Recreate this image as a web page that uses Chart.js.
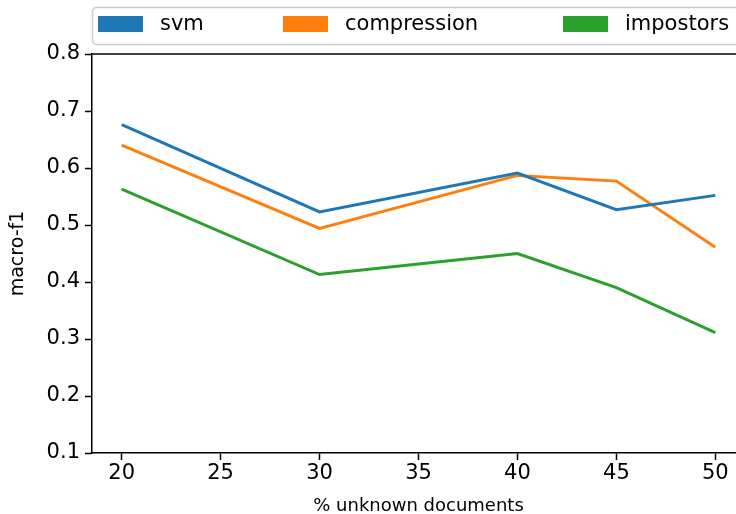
<!DOCTYPE html>
<html>
<head>
<meta charset="utf-8">
<script src="https://cdn.jsdelivr.net/npm/chart.js@4/dist/chart.umd.min.js"></script>
<style>
  html, body { margin: 0; padding: 0; background: #fff; overflow: hidden; }
  #wrap { width: 745px; height: 514px; }
</style>
</head>
<body>
<div id="wrap"><canvas id="myChart" width="745" height="514"></canvas></div>
<script>
// values
const unknownPercent = [20, 30, 40, 45, 50];
const svmScores = [0.676, 0.523, 0.591, 0.527, 0.552];
const compressionScores = [0.640, 0.494, 0.587, 0.577, 0.461];
const impostorsScores = [0.563, 0.413, 0.450, 0.390, 0.311];
const xTicks = [20, 25, 30, 35, 40, 45, 50];
const yTicks = [0.1, 0.2, 0.3, 0.4, 0.5, 0.6, 0.7, 0.8];

const context = document.getElementById('myChart').getContext('2d');

const toPoints = values => values.map((v, i) => ({ x: unknownPercent[i], y: v }));

// top spine + matplotlib-like legend box across the top
const frameLegend = {
  id: 'frameLegend',
  afterDraw(chart) {
    const ctx = chart.ctx;
    const { left, right, top } = chart.chartArea;
    const boxX = [98, 283, 563];
    ctx.save();
    ctx.strokeStyle = '#000';
    ctx.lineWidth = 1.5;
    ctx.beginPath();
    ctx.moveTo(left - 0.75, top);
    ctx.lineTo(right, top);
    ctx.stroke();

    ctx.fillStyle = 'rgba(255,255,255,0.8)';
    ctx.strokeStyle = '#cccccc';
    ctx.beginPath();
    ctx.roundRect(92.5, 7.5, 700, 37, 4);
    ctx.fill();
    ctx.stroke();
    ctx.font = '21px "DejaVu Sans"';
    ctx.textBaseline = 'middle';
    chart.data.datasets.forEach((ds, i) => {
      ctx.fillStyle = ds.borderColor;
      ctx.fillRect(boxX[i], 16, 45, 16);
      ctx.fillStyle = '#000';
      ctx.fillText(ds.label, boxX[i] + 62, 25);
    });
    ctx.restore();
  },
};

new Chart(context, {
  type: 'line',
  data: {
    datasets: [
      { label: 'svm', data: toPoints(svmScores), borderColor: '#1f77b4' },
      { label: 'compression', data: toPoints(compressionScores), borderColor: '#ff7f0e' },
      { label: 'impostors', data: toPoints(impostorsScores), borderColor: '#2ca02c' },
    ].map(ds => ({ ...ds, borderWidth: 3, pointRadius: 0, tension: 0, fill: false })),
  },
  options: {
    responsive: false,
    animation: false,
    layout: { padding: { top: 54, left: 0, right: 0, bottom: 0 } },
    plugins: { legend: { display: false }, tooltip: { enabled: false } },
    scales: {
      x: {
        type: 'linear',
        min: 18.5,
        max: 51.5,
        afterBuildTicks(scale) {
          scale.ticks = xTicks.map(v => ({ value: v }));
        },
        afterFit(scale) { scale.height = 61; },
        border: { color: '#000', width: 1.5 },
        grid: { drawOnChartArea: false, tickLength: 7, tickWidth: 1.5, tickColor: '#000' },
        ticks: { color: '#000', font: { family: 'DejaVu Sans', size: 21 }, padding: 1, maxRotation: 0 },
        title: {
          display: true,
          text: '% unknown documents',
          color: '#000',
          font: { family: 'DejaVu Sans', size: 18 },
          padding: { top: 4, bottom: -3 },
        },
      },
      y: {
        min: 0.1,
        max: 0.8,
        afterBuildTicks(scale) {
          scale.ticks = yTicks.map(v => ({ value: v }));
        },
        afterFit(scale) { scale.width = 92; },
        border: { color: '#000', width: 1.5 },
        grid: { drawOnChartArea: false, tickLength: 7, tickWidth: 1.5, tickColor: '#000' },
        ticks: {
          color: '#000',
          font: { family: 'DejaVu Sans', size: 21 },
          padding: 5,
          callback(value) {
            return value.toFixed(1);
          },
        },
        title: {
          display: true,
          text: 'macro-f1',
          color: '#000',
          font: { family: 'DejaVu Sans', size: 19 },
          padding: { top: 7, bottom: 4 },
        },
      },
    },
  },
  plugins: [frameLegend],
});
</script>
</body>
</html>
